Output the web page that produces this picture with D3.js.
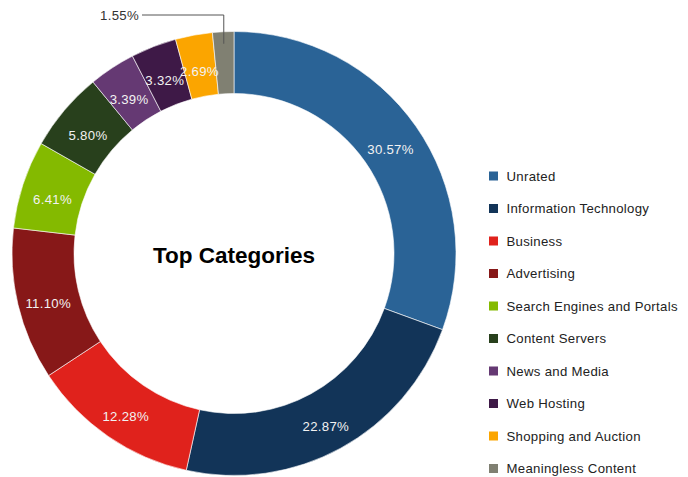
<!DOCTYPE html>
<html>
<head>
<meta charset="utf-8">
<script src="https://cdn.jsdelivr.net/npm/d3@7"></script>
<style>
  html, body { margin: 0; padding: 0; background: #fff; }
  svg { display: block; font-family: "Liberation Sans", Arial, Helvetica, sans-serif; }
</style>
</head>
<body>
<svg id="chart" width="688" height="477"></svg>
<script>
// Share of traffic by category (percent)
const categories = [
  "Unrated", "Information Technology", "Business", "Advertising",
  "Search Engines and Portals", "Content Servers", "News and Media",
  "Web Hosting", "Shopping and Auction", "Meaningless Content"
];
const shares = [30.57, 22.87, 12.28, 11.10, 6.41, 5.80, 3.39, 3.32, 2.69, 1.55];
const palette = [
  "#2a6396", "#123458", "#e0221c", "#871818", "#84ba00",
  "#28401c", "#653973", "#3e1947", "#fba500", "#808072"
];
const title = "Top Categories";

const data = categories.map((c, i) => ({ name: c, value: shares[i] }));

const svg = d3.select("#chart");
const cx = 234, cy = 253.5;
const outerR = 222, innerR = 160;

const color = d3.scaleOrdinal().domain(categories).range(palette);

const pie = d3.pie().value(d => d.value).sort(null);
const arc = d3.arc().innerRadius(innerR).outerRadius(outerR);
const labelArc = d3.arc().innerRadius((innerR + outerR) / 2).outerRadius((innerR + outerR) / 2);

const g = svg.append("g").attr("transform", `translate(${cx},${cy})`);
const arcs = pie(data);

g.selectAll("path.slice")
  .data(arcs)
  .join("path")
  .attr("class", "slice")
  .attr("d", arc)
  .attr("fill", d => color(d.data.name))
  .attr("stroke", "#fff")
  .attr("stroke-width", 0.6);

const fmt = v => v.toFixed(2) + "%";
const smallThreshold = 2;
const labelFont = 13.2, labelSpacing = 0.3;

// Labels inside the ring
g.selectAll("text.inlabel")
  .data(arcs.filter(d => d.data.value >= smallThreshold))
  .join("text")
  .attr("class", "inlabel")
  .attr("x", d => labelArc.centroid(d)[0])
  .attr("y", d => labelArc.centroid(d)[1] + 10)
  .attr("text-anchor", "middle")
  .attr("font-size", labelFont)
  .attr("letter-spacing", labelSpacing)
  .attr("fill", "#f2f2f2")
  .text(d => fmt(d.data.value));

// Small slices get an outside label with a leader line
arcs.filter(d => d.data.value < smallThreshold).forEach(d => {
  const mid = (d.startAngle + d.endAngle) / 2;
  const r0 = outerR - 12;
  const x0 = Math.sin(mid) * r0;
  const y0 = -Math.cos(mid) * r0;
  const yTop = 15 - cy;
  const xEnd = 142 - cx;
  g.append("path")
    .attr("d", `M${x0},${y0}V${yTop}H${xEnd}`)
    .attr("fill", "none")
    .attr("stroke", "#555")
    .attr("stroke-width", 1);
  g.append("text")
    .attr("x", xEnd - 3)
    .attr("y", yTop + 5)
    .attr("text-anchor", "end")
    .attr("font-size", labelFont)
    .attr("letter-spacing", labelSpacing)
    .attr("fill", "#333")
    .text(fmt(d.data.value));
});

// Centre title
g.append("text")
  .attr("x", 0)
  .attr("y", 9.5)
  .attr("text-anchor", "middle")
  .attr("font-size", 22.5)
  .attr("font-weight", "bold")
  .attr("fill", "#000")
  .text(title);

// Legend
const legendY = d3.scalePoint().domain(categories).range([176, 468.5]);
const legend = svg.append("g");
const rows = legend.selectAll("g")
  .data(categories)
  .join("g")
  .attr("transform", d => `translate(489,${legendY(d)})`);
rows.append("rect")
  .attr("x", 0).attr("y", -4.5)
  .attr("width", 9).attr("height", 9)
  .attr("fill", d => color(d));
rows.append("text")
  .attr("x", 17.5)
  .attr("y", 4.8)
  .attr("font-size", labelFont)
  .attr("letter-spacing", labelSpacing)
  .attr("fill", "#222")
  .text(d => d);
</script>
</body>
</html>
